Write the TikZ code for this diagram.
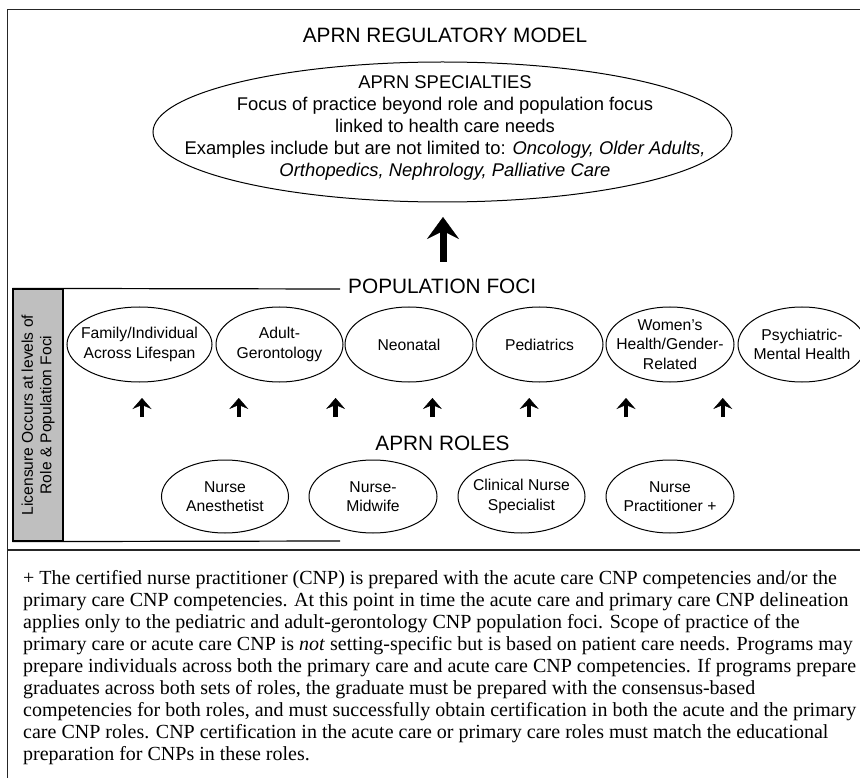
\documentclass[tikz,border=0pt]{standalone}
\usepackage{fontspec}
\setmainfont{Liberation Serif}
\setsansfont{Liberation Sans}
\usetikzlibrary{shapes.geometric,arrows.meta}
\begin{document}
\begin{tikzpicture}[x=1pt,y=-1pt,
  oval/.style={draw=black,line width=1pt,ellipse,inner sep=0pt},
  foc/.style={font=\sffamily\fontsize{15.7}{19.5}\selectfont,align=center,inner sep=0pt},
  head/.style={font=\sffamily\fontsize{20.8}{25}\selectfont,inner sep=0pt},
  uparrow/.style={line width=4.5pt,-{Stealth[length=11pt,width=19pt,inset=4pt,line width=0.4pt]}},
  bigarrow/.style={line width=7pt,-{Stealth[length=22pt,width=32pt,inset=8pt,line width=0.4pt]}},
  frame/.style={draw=black!85,line width=1.4pt},
  inner/.style={draw=black,line width=1.2pt}]
\useasboundingbox (0,0) rectangle (860,778);
\fill[white] (0,0) rectangle (860,778);
% outer frame
\coordinate (fbl) at (7.7,778);
\coordinate (ftl) at (7.7,9.5);
\coordinate (ftr) at (860,9.5);
\coordinate (sepl) at (7.7,550);
\coordinate (sepr) at (860,550);
\draw[frame] (fbl) -- (ftl) -- (ftr);
\draw[frame] (sepl) -- (sepr);
% title
\node[head,anchor=base] (title) at (445,43) {APRN REGULATORY MODEL};
% specialties
\node[oval,minimum width=579pt,minimum height=140pt] (spec) at (442.5,132) {};
\node[font=\sffamily\fontsize{18.4}{22}\selectfont,align=center,inner sep=0pt,anchor=north] (spect) at (445,75.8)
  {APRN SPECIALTIES\\Focus of practice beyond role and population focus\\linked to health care needs\\Examples include but are not limited to: \textit{Oncology, Older Adults,}\\\textit{Orthopedics, Nephrology, Palliative Care}};
\coordinate (bs) at (443,262);
\coordinate (be) at (443,217);
\draw[bigarrow] (bs) -- (be);
% licensure box
\node[inner,fill=black!25,minimum width=50pt,minimum height=252pt,inner sep=0pt] (lic) at (38,415) {};
\node[rotate=90,font=\sffamily\fontsize{15.6}{18.5}\selectfont,align=center,inner sep=0pt] (lict) at (lic.center) {Licensure Occurs at levels of\\Role \& Population Foci};
\coordinate (itr) at (340,289);
\coordinate (ibr) at (340,541);
\draw[inner] (lic.north west) -- (itr);
\draw[inner] (lic.south west) -- (ibr);
\node[head,anchor=base west] (pop) at (348,294) {POPULATION FOCI};
% population foci
\node[oval,minimum width=145pt,minimum height=75pt] (fam) at (139.5,344.5) {};
\node[foc] at (fam.center) {Family/Individual\\Across Lifespan};
\node[oval,minimum width=127pt,minimum height=75pt] (adu) at (279.5,344.5) {};
\node[foc] at (adu.center) {Adult-\\Gerontology};
\node[oval,minimum width=128pt,minimum height=75pt] (neo) at (409,344.5) {};
\node[foc] at (neo.center) {Neonatal};
\node[oval,minimum width=127pt,minimum height=75pt] (ped) at (539.5,344.5) {};
\node[foc] at (ped.center) {Pediatrics};
\node[oval,minimum width=128pt,minimum height=75pt] (wom) at (670,344.5) {};
\node[foc] at (wom.center) {Women’s\\Health/Gender-\\Related};
\node[oval,minimum width=128pt,minimum height=75pt] (psy) at (802,344.5) {};
\node[foc] at (psy.center) {Psychiatric-\\Mental Health};
% small arrows
\foreach \i/\x in {1/142,2/238.8,3/335.6,4/432.4,5/529.2,6/626,7/722.8}{
  \coordinate (s\i) at (\x,417);
  \coordinate (e\i) at (\x,398);
  \draw[uparrow] (s\i) -- (e\i);
}
% roles
\node[head,anchor=base] (roles) at (442.5,450) {APRN ROLES};
\node[oval,minimum width=127pt,minimum height=73pt] (na) at (225,496.5) {};
\node[foc] at (na.center) {Nurse\\Anesthetist};
\node[oval,minimum width=128pt,minimum height=73pt] (nm) at (373,496.5) {};
\node[foc] at (nm.center) {Nurse-\\Midwife};
\node[oval,minimum width=127pt,minimum height=73pt] (cns) at (521.5,496.5) {};
\node[foc] at (cns.center) {Clinical Nurse\\Specialist};
\node[oval,minimum width=128pt,minimum height=73pt] (np) at (670,496.5) {};
\node[foc] at (np.center) {Nurse\\Practitioner +};
% note
\node[font=\fontsize{20}{22}\selectfont,align=left,anchor=north west,inner sep=0pt] (note) at (23,570)
  {+ The certified nurse practitioner (CNP) is prepared with the acute care CNP competencies and/or the\\
   primary care CNP competencies. At this point in time the acute care and primary care CNP delineation\\
   applies only to the pediatric and adult-gerontology CNP population foci. Scope of practice of the\\
   primary care or acute care CNP is \textit{not} setting-specific but is based on patient care needs. Programs may\\
   prepare individuals across both the primary care and acute care CNP competencies. If programs prepare\\
   graduates across both sets of roles, the graduate must be prepared with the consensus-based\\
   competencies for both roles, and must successfully obtain certification in both the acute and the primary\\
   care CNP roles. CNP certification in the acute care or primary care roles must match the educational\\
   preparation for CNPs in these roles.};
\end{tikzpicture}
\end{document}
